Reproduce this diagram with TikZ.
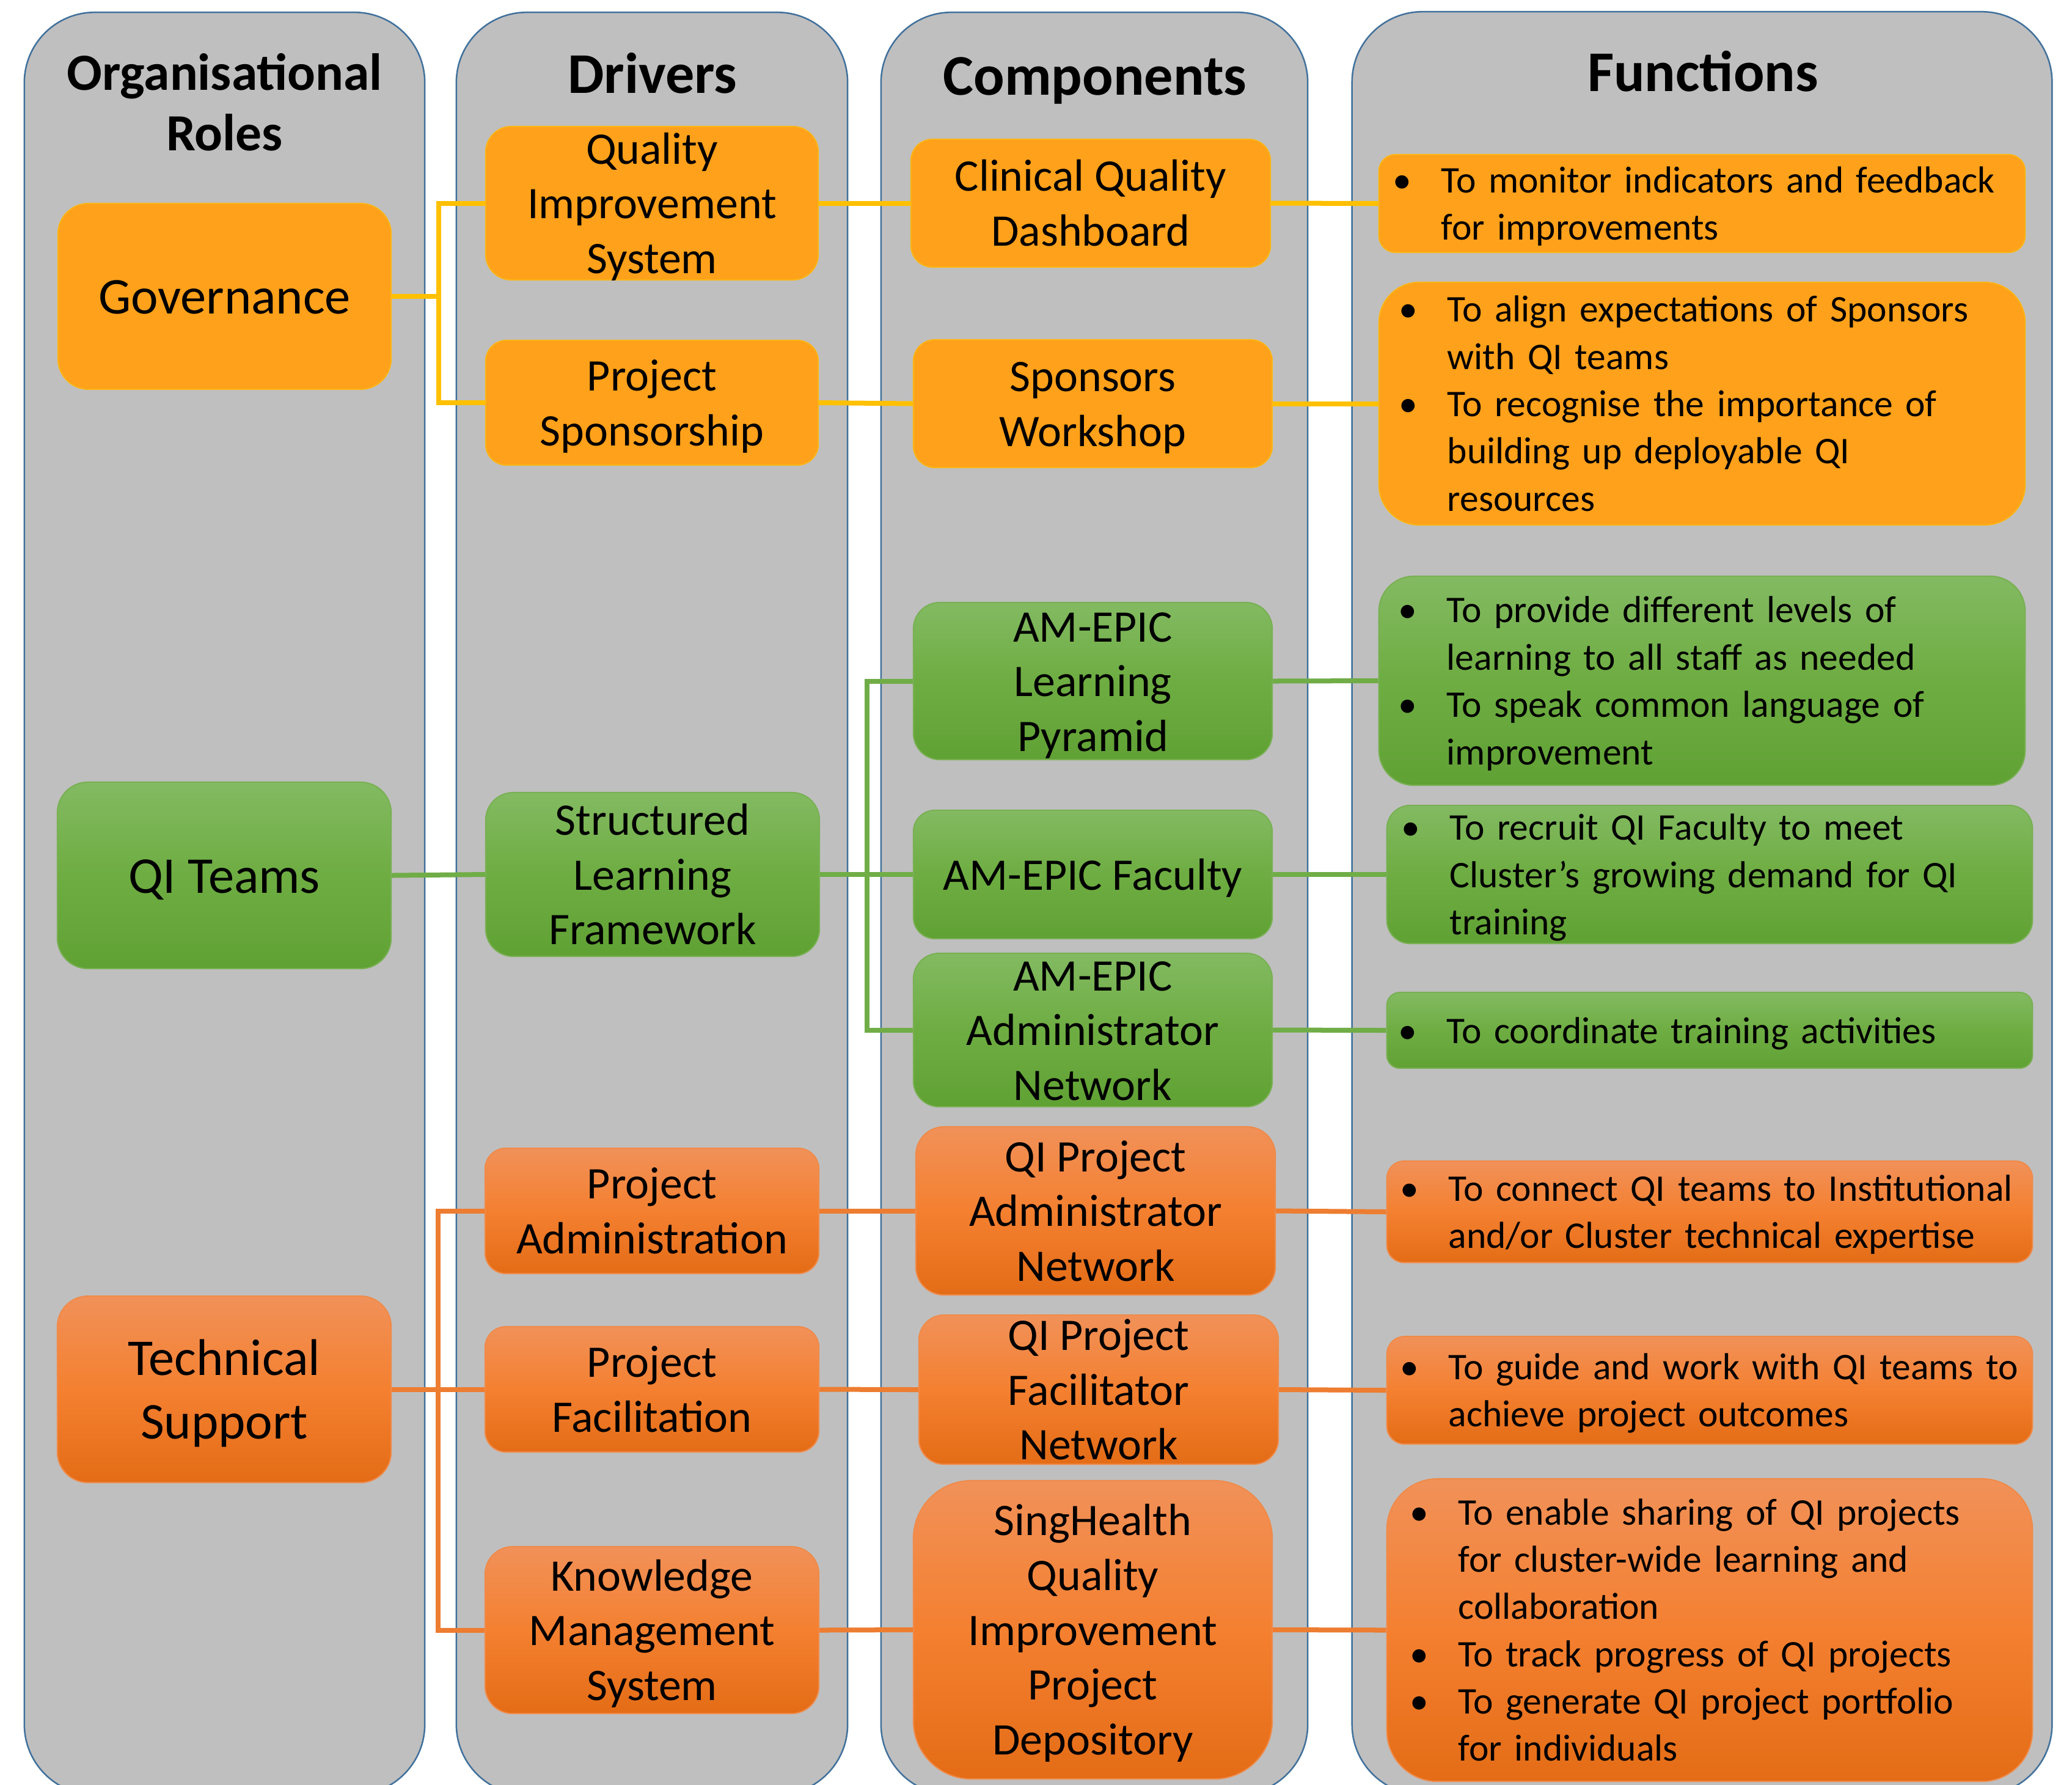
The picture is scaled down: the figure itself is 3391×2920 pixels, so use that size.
\documentclass[tikz,border=0pt]{standalone}
\usepackage{fontspec}
\setmainfont{Carlito}
\definecolor{colgray}{HTML}{BFBFBF}
\definecolor{colbord}{HTML}{41719C}
\definecolor{orsolid}{HTML}{FFA11A}
\definecolor{orsbord}{HTML}{FFB515}
\definecolor{gA}{HTML}{83BA62}
\definecolor{gB}{HTML}{6EAD42}
\definecolor{gC}{HTML}{60A134}
\definecolor{gbord}{HTML}{78B052}
\definecolor{oA}{HTML}{F19159}
\definecolor{oB}{HTML}{F48030}
\definecolor{oC}{HTML}{E46C16}
\definecolor{obord}{HTML}{F08A48}
\definecolor{cY}{HTML}{FFC000}
\definecolor{cG}{HTML}{70AD47}
\definecolor{cO}{HTML}{ED7D31}
\newcommand{\hdfont}{\fontsize{26.8pt}{28.2pt}\selectfont\bfseries}
\newcommand{\orfont}{\fontsize{24.3pt}{28.2pt}\selectfont\bfseries}
\newcommand{\rofont}{\fontsize{24pt}{29.5pt}\selectfont}
\newcommand{\drfont}{\fontsize{21pt}{25.5pt}\selectfont}
\newcommand{\fnfont}{\fontsize{17.5pt}{22pt}\selectfont}
\newcommand{\mystrutx}{\rule[-0.269em]{0pt}{1.221em}}
\newcommand{\bitem}[1]{\makebox[0pt][c]{\textbullet}\hspace*{0.64cm}\mbox{#1}}
\newcommand{\bcont}[1]{\hspace*{0.64cm}\mbox{#1}}
\begin{document}
\begin{tikzpicture}[x=0.01cm,y=-0.01cm,
  colbox/.style={draw=colbord, line width=0.025cm, fill=colgray, rounded corners=1.15cm, inner sep=0pt},
  hd/.style={font=\hdfont, align=center, inner sep=0pt},
  tx/.style={execute at end node=\mystrutx},
  sbox/.style={tx, draw=orsbord, line width=0.02cm, fill=orsolid, align=center, inner xsep=0pt, inner ysep=-0.3cm},
  gbox/.style={tx, draw=gbord, line width=0.02cm, top color=gA, bottom color=gC, middle color=gB, align=center, inner xsep=0pt, inner ysep=-0.3cm},
  obox/.style={tx, draw=obord, line width=0.02cm, top color=oA, bottom color=oC, middle color=oB, align=center, inner xsep=0pt, inner ysep=-0.3cm},
  fn/.style={align=left, font=\fnfont, inner ysep=-0.3cm},
  conY/.style={draw=cY, line width=0.08cm},
  conG/.style={draw=cG, line width=0.08cm},
  conO/.style={draw=cO, line width=0.08cm}]
\useasboundingbox (0,0) rectangle (3391,2920);
\fill[white] (0,0) rectangle (3391,2920);
\begin{scope}
\clip (0,0) rectangle (3391,2920);
\node[colbox, minimum width=6.55cm, minimum height=29.15cm] (col1) at (367.5,1478.5) {};
\node[colbox, minimum width=6.40cm, minimum height=29.15cm] (col2) at (1067,1478.5) {};
\node[colbox, minimum width=6.98cm, minimum height=29.15cm] (col3) at (1791,1478.5) {};
\node[colbox, minimum width=11.45cm, minimum height=29.16cm] (col4) at (2785.5,1478) {};
\end{scope}
% headers
\node[hd, tx, font=\orfont] (h1) at (367.5,168) {\mystrutx Organisational\\Roles};
\node[hd, anchor=base] (h2) at (1068,152.7) {Drivers};
\node[hd, anchor=base] (h3) at (1792,155) {Components};
\node[hd, anchor=base] (h4) at (2787,149) {Functions};
% roles
\node[sbox, font=\rofont, minimum width=5.45cm, minimum height=3.04cm, rounded corners=0.5cm] (gov) at (367.5,485) {\mystrutx Governance};
\node[gbox, font=\rofont, minimum width=5.46cm, minimum height=3.05cm, rounded corners=0.5cm] (qit) at (367,1432.5) {\mystrutx QI Teams};
\node[obox, font=\rofont, minimum width=5.46cm, minimum height=3.05cm, rounded corners=0.5cm] (ts) at (367,2273.5) {\mystrutx Technical\\Support};
% drivers
\node[sbox, font=\drfont, minimum width=5.44cm, minimum height=2.51cm, rounded corners=0.42cm] (qis) at (1067,332.5) {\mystrutx Quality\\Improvement\\System};
\node[sbox, font=\drfont, minimum width=5.44cm, minimum height=2.04cm, rounded corners=0.34cm] (ps) at (1067,659) {\mystrutx Project\\Sponsorship};
\node[gbox, font=\drfont, minimum width=5.46cm, minimum height=2.68cm, rounded corners=0.45cm] (slf) at (1068,1431) {\mystrutx Structured\\Learning\\Framework};
\node[obox, font=\drfont, minimum width=5.46cm, minimum height=2.05cm, rounded corners=0.34cm] (pa) at (1067,1981.5) {\mystrutx Project\\Administration};
\node[obox, font=\drfont, minimum width=5.46cm, minimum height=2.05cm, rounded corners=0.34cm] (pf) at (1067,2273.5) {\mystrutx Project\\Facilitation};
\node[obox, font=\drfont, minimum width=5.46cm, minimum height=2.73cm, rounded corners=0.45cm] (kms) at (1067,2667.5) {\mystrutx Knowledge\\Management\\System};
% components
\node[sbox, font=\drfont, minimum width=5.88cm, minimum height=2.09cm, rounded corners=0.35cm] (cqd) at (1785,332.5) {\mystrutx Clinical Quality\\Dashboard};
\node[sbox, font=\drfont, minimum width=5.87cm, minimum height=2.09cm, rounded corners=0.35cm] (sw) at (1788.5,660.5) {\mystrutx Sponsors\\Workshop};
\node[gbox, font=\drfont, minimum width=5.87cm, minimum height=2.57cm, rounded corners=0.43cm] (lp) at (1788.5,1114.5) {\mystrutx AM-EPIC\\Learning\\Pyramid};
\node[gbox, font=\drfont, minimum width=5.87cm, minimum height=2.10cm, rounded corners=0.35cm] (fac) at (1788.5,1431) {\mystrutx AM-EPIC Faculty};
\node[gbox, font=\drfont, minimum width=5.87cm, minimum height=2.51cm, rounded corners=0.42cm] (an) at (1788.5,1685.5) {\mystrutx AM-EPIC\\Administrator\\Network};
\node[obox, font=\drfont, minimum width=5.88cm, minimum height=2.75cm, rounded corners=0.46cm] (qpan) at (1793,1981.5) {\mystrutx QI Project\\Administrator\\Network};
\node[obox, font=\drfont, minimum width=5.88cm, minimum height=2.44cm, rounded corners=0.41cm] (qpfn) at (1798,2274) {\mystrutx QI Project\\Facilitator\\Network};
\node[obox, font=\drfont, minimum width=5.87cm, minimum height=4.88cm, rounded corners=0.95cm] (sqi) at (1788.5,2667) {\mystrutx SingHealth\\Quality\\Improvement\\Project\\Depository};
% functions
\node[sbox, fn, minimum width=10.57cm, minimum height=1.60cm, rounded corners=0.27cm, inner xsep=0.38cm, text width=9.81cm] (f1) at (2785.5,333) {\mystrutx\bitem{To monitor indicators and feedback}\\\bcont{for improvements}};
\node[sbox, fn, minimum width=10.57cm, minimum height=3.97cm, rounded corners=0.66cm, inner xsep=0.48cm, text width=9.61cm] (f2) at (2785.5,660.5) {\mystrutx\bitem{To align expectations of Sponsors}\\\bcont{with QI teams}\\\bitem{To recognise the importance of}\\\bcont{building up deployable QI}\\\bcont{resources}};
\node[gbox, fn, minimum width=10.57cm, minimum height=3.42cm, rounded corners=0.57cm, inner xsep=0.47cm, text width=9.63cm] (f3) at (2785.5,1114) {\mystrutx\bitem{To provide different levels of}\\\bcont{learning to all staff as needed}\\\bitem{To speak common language of}\\\bcont{improvement}};
\node[gbox, fn, minimum width=10.56cm, minimum height=2.26cm, rounded corners=0.38cm, inner xsep=0.39cm, text width=9.78cm] (f4) at (2798,1431) {\mystrutx\bitem{To recruit QI Faculty to meet}\\\bcont{Cluster’s growing demand for QI}\\\bcont{training}};
\node[gbox, fn, minimum width=10.56cm, minimum height=1.24cm, rounded corners=0.21cm, inner xsep=0.34cm, text width=9.88cm] (f5) at (2798,1686) {\mystrutx\bitem{To coordinate training activities}};
\node[obox, fn, minimum width=10.56cm, minimum height=1.66cm, rounded corners=0.28cm, inner xsep=0.37cm, text width=9.82cm] (f6) at (2798,1983) {\mystrutx\bitem{To connect QI teams to Institutional}\\\bcont{and/or Cluster technical expertise}};
\node[obox, fn, minimum width=10.56cm, minimum height=1.76cm, rounded corners=0.29cm, inner xsep=0.37cm, text width=9.82cm] (f7) at (2798,2275) {\mystrutx\bitem{To guide and work with QI teams to}\\\bcont{achieve project outcomes}};
\node[obox, fn, minimum width=10.56cm, minimum height=4.95cm, rounded corners=0.83cm, inner xsep=0.53cm, text width=9.50cm] (f8) at (2798,2667.5) {\mystrutx\bitem{To enable sharing of QI projects}\\\bcont{for cluster-wide learning and}\\\bcont{collaboration}\\\bitem{To track progress of QI projects}\\\bitem{To generate QI project portfolio}\\\bcont{for individuals}};
% connectors
\coordinate (yj) at (718,485);
\coordinate (gj) at (1419,1431);
\coordinate (oj) at (717,2273.5);
\draw[conY] (gov.east) -- (yj);
\draw[conY] (qis.west) -| (yj) |- (ps.west);
\draw[conY] (qis.east) -- (cqd.west);
\draw[conY] (cqd.east) -- (f1.west);
\draw[conY] (ps.east) -- (sw.west);
\draw[conY] (sw.east) -- (f2.west);
\draw[conG] (qit.east) -- (slf.west);
\draw[conG] (slf.east) -- (fac.west);
\draw[conG] (lp.west) -| (gj) |- (an.west);
\draw[conG] (lp.east) -- (f3.west);
\draw[conG] (fac.east) -- (f4.west);
\draw[conG] (an.east) -- (f5.west);
\draw[conO] (ts.east) -- (pf.west);
\draw[conO] (pa.west) -| (oj) |- (kms.west);
\draw[conO] (pa.east) -- (qpan.west);
\draw[conO] (qpan.east) -- (f6.west);
\draw[conO] (pf.east) -- (qpfn.west);
\draw[conO] (qpfn.east) -- (f7.west);
\draw[conO] (kms.east) -- (sqi.west);
\draw[conO] (sqi.east) -- (f8.west);
\end{tikzpicture}
\end{document}
